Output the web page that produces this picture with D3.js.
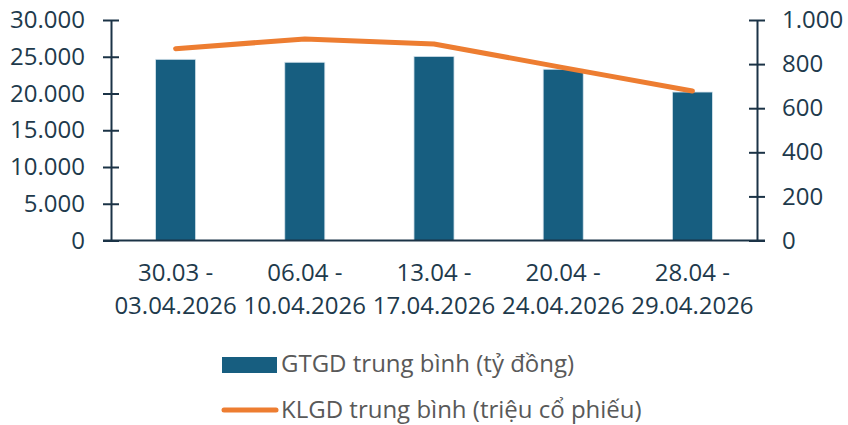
<html>
<head>
<script src="https://cdnjs.cloudflare.com/ajax/libs/d3/7.8.5/d3.min.js"></script>
<style>
  body { margin: 0; background: #fff; }
  text { font-family: "Open Sans", sans-serif; }
</style>
</head>
<body>
<svg id="chart" width="848" height="425"></svg>
<script>
  // categories (two lines each)
  var periods = [
    ["30.03 -", "03.04.2026"],
    ["06.04 -", "10.04.2026"],
    ["13.04 -", "17.04.2026"],
    ["20.04 -", "24.04.2026"],
    ["28.04 -", "29.04.2026"]
  ]
  var gtgd = [24650, 24250, 25050, 23300, 20200]   // ty dong
  var klgd = [870, 914, 891, 784, 678]             // trieu co phieu
  var leftTicks = [0, 5000, 10000, 15000, 20000, 25000, 30000]
  var rightTicks = [0, 200, 400, 600, 800, 1000]
  var legendNames = ["GTGD trung bình (tỷ đồng)", "KLGD trung bình (triệu cổ phiếu)"]

  var BAR = "#175e80", LINE = "#ed7d31", AXIS = "#1b3346", TXT = "#1e3a4c"
  var pLeft = 111, pRight = 757, pTop = 20, pBottom = 240.5
  var FS = 24

  var fmt = d => d3.format(",")(d).replace(/,/g, ".")

  var svg = d3.select("#chart")
  var x = d3.scaleBand().domain(d3.range(periods.length)).range([pLeft, pRight])
    .paddingInner(0.69).paddingOuter(0.345)
  var yL = d3.scaleLinear().domain([0, 30000]).range([pBottom, pTop])
  var yR = d3.scaleLinear().domain([0, 1000]).range([pBottom, pTop])

  // bars
  svg.append("g").selectAll("rect").data(gtgd).enter().append("rect")
    .attr("x", (d, i) => x(i))
    .attr("y", d => yL(d))
    .attr("width", x.bandwidth())
    .attr("height", d => pBottom - yL(d))
    .attr("fill", BAR)
    .attr("stroke", "#d6e4ec").attr("stroke-width", 0.8)

  // axes
  var gl = svg.append("g").attr("transform", "translate(" + pLeft + ",0)")
    .call(d3.axisLeft(yL).tickValues(leftTicks).tickFormat(fmt).tickSize(8).tickSizeOuter(0))
  var gr = svg.append("g").attr("transform", "translate(" + pRight + ",0)")
    .call(d3.axisRight(yR).tickValues(rightTicks).tickFormat(fmt).tickSize(8).tickSizeOuter(0))
  ;[gl, gr].forEach(g => {
    g.select(".domain").attr("stroke", AXIS).attr("stroke-width", 2)
    g.selectAll(".tick line").attr("stroke", AXIS).attr("stroke-width", 2)
    g.selectAll(".tick text").attr("fill", TXT).attr("font-size", FS)
  })
  gl.selectAll(".tick line").attr("x1", -8).attr("x2", 8)
  gl.selectAll(".tick text").attr("x", -26)
  gr.selectAll(".tick line").attr("x1", -8)
  gr.selectAll(".tick text").attr("x", 25)

  // baseline
  svg.append("line").attr("x1", pLeft - 8).attr("x2", pRight + 8)
    .attr("y1", pBottom).attr("y2", pBottom)
    .attr("stroke", AXIS).attr("stroke-width", 2)

  // category labels
  var cat = svg.append("g").selectAll("text").data(periods).enter().append("text")
    .attr("text-anchor", "middle").attr("fill", TXT).attr("font-size", FS)
  cat.each(function(d, i) {
    var t = d3.select(this)
    d.forEach((s, k) => {
      t.append("tspan").attr("x", x(i) + x.bandwidth() / 2).attr("y", 281 + k * 33).text(s)
    })
  })

  // line
  svg.append("path").datum(klgd)
    .attr("d", d3.line().x((d, i) => x(i) + x.bandwidth() / 2).y(d => yR(d)))
    .attr("fill", "none").attr("stroke", LINE).attr("stroke-width", 5)
    .attr("stroke-linecap", "round").attr("stroke-linejoin", "round")

  // legend
  var lg = svg.append("g")
  lg.append("rect").attr("x", 222).attr("y", 357).attr("width", 55).attr("height", 16).attr("fill", BAR)
  lg.append("line").attr("x1", 224).attr("x2", 276).attr("y1", 410).attr("y2", 410)
    .attr("stroke", LINE).attr("stroke-width", 5).attr("stroke-linecap", "round")
  lg.selectAll("text").data(legendNames).enter().append("text")
    .attr("x", 281).attr("y", (d, i) => 364 + i * 46).attr("dy", "0.35em")
    .attr("fill", "#595959").attr("font-size", FS).text(d => d)
</script>
</body>
</html>
